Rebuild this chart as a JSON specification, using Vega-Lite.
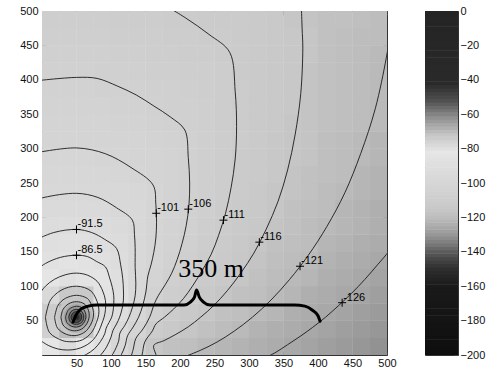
{
"$schema": "https://vega.github.io/schema/vega-lite/v6.json",
"padding": {"left": 5, "top": 4, "right": 0, "bottom": 0},
"bounds": "flush",
"spacing": 38,
"background": "white",
"config": {
  "view": {"stroke": "#333333", "strokeWidth": 1},
  "axis": {"labelFont": "Liberation Sans", "labelFontSize": 11, "labelColor": "#111111", "tickColor": "#444444", "domain": false, "grid": false, "labelOverlap": false}
},
"datasets": {
  "grid": [
    {"y":12.5,"x":[12.5,37.5,62.5,87.5,112.5,137.5,162.5,187.5,212.5,237.5,262.5,287.5,312.5,337.5,362.5,387.5,412.5,437.5,462.5,487.5],"v":[-82,-79,-82,-89,-99,-107,-116,-118,-119,-121,-122,-123,-124,-125,-126,-127,-128,-129,-130,-131]},
    {"y":37.5,"x":[12.5,37.5,62.5,87.5,112.5,137.5,162.5,187.5,212.5,237.5,262.5,287.5,312.5,337.5,362.5,387.5,412.5,437.5,462.5,487.5],"v":[-75,-70,-72,-84,-95,-103,-111,-114,-116,-118,-120,-121,-123,-124,-125,-126,-127,-128,-129,-130]},
    {"y":62.5,"x":[12.5,37.5,62.5,87.5,112.5,137.5,162.5,187.5,212.5,237.5,262.5,287.5,312.5,337.5,362.5,387.5,412.5,437.5,462.5,487.5],"v":[-74,-68,-70,-79,-91,-99,-107,-111,-114,-116,-118,-119,-121,-122,-124,-125,-126,-127,-128,-129]},
    {"y":87.5,"x":[12.5,37.5,62.5,87.5,112.5,137.5,162.5,187.5,212.5,237.5,262.5,287.5,312.5,337.5,362.5,387.5,412.5,437.5,462.5,487.5],"v":[-78,-73,-73,-81,-90,-97,-105,-109,-111,-114,-116,-118,-119,-121,-122,-124,-125,-126,-127,-128]},
    {"y":112.5,"x":[12.5,37.5,62.5,87.5,112.5,137.5,162.5,187.5,212.5,237.5,262.5,287.5,312.5,337.5,362.5,387.5,412.5,437.5,462.5,487.5],"v":[-83,-80,-81,-84,-90,-97,-103,-107,-110,-112,-114,-116,-118,-120,-121,-122,-124,-125,-126,-127]},
    {"y":137.5,"x":[12.5,37.5,62.5,87.5,112.5,137.5,162.5,187.5,212.5,237.5,262.5,287.5,312.5,337.5,362.5,387.5,412.5,437.5,462.5,487.5],"v":[-87,-85,-86,-88,-92,-97,-101,-105,-108,-111,-113,-115,-117,-119,-120,-121,-123,-124,-125,-126]},
    {"y":162.5,"x":[12.5,37.5,62.5,87.5,112.5,137.5,162.5,187.5,212.5,237.5,262.5,287.5,312.5,337.5,362.5,387.5,412.5,437.5,462.5,487.5],"v":[-90,-89,-89,-91,-93,-97,-101,-104,-107,-110,-112,-114,-116,-118,-119,-120,-122,-123,-124,-125]},
    {"y":187.5,"x":[12.5,37.5,62.5,87.5,112.5,137.5,162.5,187.5,212.5,237.5,262.5,287.5,312.5,337.5,362.5,387.5,412.5,437.5,462.5,487.5],"v":[-93,-92,-92,-93,-95,-97,-101,-104,-106,-109,-111,-113,-115,-117,-118,-120,-121,-122,-123,-124]},
    {"y":212.5,"x":[12.5,37.5,62.5,87.5,112.5,137.5,162.5,187.5,212.5,237.5,262.5,287.5,312.5,337.5,362.5,387.5,412.5,437.5,462.5,487.5],"v":[-95,-95,-95,-95,-97,-98,-101,-103,-106,-108,-111,-113,-114,-116,-118,-119,-120,-122,-123,-124]},
    {"y":237.5,"x":[12.5,37.5,62.5,87.5,112.5,137.5,162.5,187.5,212.5,237.5,262.5,287.5,312.5,337.5,362.5,387.5,412.5,437.5,462.5,487.5],"v":[-97,-97,-97,-97,-98,-99,-101,-104,-106,-108,-110,-112,-114,-116,-117,-118,-120,-121,-122,-123]},
    {"y":262.5,"x":[12.5,37.5,62.5,87.5,112.5,137.5,162.5,187.5,212.5,237.5,262.5,287.5,312.5,337.5,362.5,387.5,412.5,437.5,462.5,487.5],"v":[-99,-99,-99,-99,-100,-101,-102,-104,-106,-108,-110,-112,-113,-115,-117,-118,-119,-120,-122,-123]},
    {"y":287.5,"x":[12.5,37.5,62.5,87.5,112.5,137.5,162.5,187.5,212.5,237.5,262.5,287.5,312.5,337.5,362.5,387.5,412.5,437.5,462.5,487.5],"v":[-100,-100,-100,-101,-101,-102,-103,-104,-106,-108,-110,-112,-113,-115,-116,-117,-119,-120,-121,-122]},
    {"y":312.5,"x":[12.5,37.5,62.5,87.5,112.5,137.5,162.5,187.5,212.5,237.5,262.5,287.5,312.5,337.5,362.5,387.5,412.5,437.5,462.5,487.5],"v":[-102,-102,-102,-102,-103,-103,-104,-105,-106,-108,-110,-111,-113,-115,-116,-117,-119,-120,-121,-122]},
    {"y":337.5,"x":[12.5,37.5,62.5,87.5,112.5,137.5,162.5,187.5,212.5,237.5,262.5,287.5,312.5,337.5,362.5,387.5,412.5,437.5,462.5,487.5],"v":[-103,-103,-103,-103,-104,-104,-105,-106,-107,-108,-110,-111,-113,-114,-116,-117,-118,-119,-120,-121]},
    {"y":362.5,"x":[12.5,37.5,62.5,87.5,112.5,137.5,162.5,187.5,212.5,237.5,262.5,287.5,312.5,337.5,362.5,387.5,412.5,437.5,462.5,487.5],"v":[-104,-104,-104,-104,-105,-105,-106,-107,-107,-108,-110,-111,-113,-114,-115,-117,-118,-119,-120,-121]},
    {"y":387.5,"x":[12.5,37.5,62.5,87.5,112.5,137.5,162.5,187.5,212.5,237.5,262.5,287.5,312.5,337.5,362.5,387.5,412.5,437.5,462.5,487.5],"v":[-105,-105,-105,-106,-106,-106,-107,-107,-108,-109,-110,-111,-113,-114,-115,-117,-118,-119,-120,-121]},
    {"y":412.5,"x":[12.5,37.5,62.5,87.5,112.5,137.5,162.5,187.5,212.5,237.5,262.5,287.5,312.5,337.5,362.5,387.5,412.5,437.5,462.5,487.5],"v":[-106,-106,-106,-107,-107,-107,-108,-108,-109,-109,-110,-112,-113,-114,-115,-117,-118,-119,-120,-121]},
    {"y":437.5,"x":[12.5,37.5,62.5,87.5,112.5,137.5,162.5,187.5,212.5,237.5,262.5,287.5,312.5,337.5,362.5,387.5,412.5,437.5,462.5,487.5],"v":[-107,-107,-107,-107,-108,-108,-109,-109,-110,-110,-111,-112,-113,-114,-115,-116,-118,-119,-120,-121]},
    {"y":462.5,"x":[12.5,37.5,62.5,87.5,112.5,137.5,162.5,187.5,212.5,237.5,262.5,287.5,312.5,337.5,362.5,387.5,412.5,437.5,462.5,487.5],"v":[-108,-108,-108,-108,-109,-109,-109,-110,-110,-111,-111,-112,-113,-114,-115,-116,-118,-119,-120,-120]},
    {"y":487.5,"x":[12.5,37.5,62.5,87.5,112.5,137.5,162.5,187.5,212.5,237.5,262.5,287.5,312.5,337.5,362.5,387.5,412.5,437.5,462.5,487.5],"v":[-109,-109,-109,-109,-110,-110,-110,-111,-111,-112,-112,-112,-113,-114,-116,-117,-118,-118,-119,-120]}
  ],
  "core": [
    {"x":50,"y":55,"r":32,"v":-72},{"x":50,"y":55,"r":26,"v":-69},{"x":50,"y":55,"r":21,"v":-66},{"x":50,"y":55,"r":17,"v":-63},
    {"x":50,"y":55,"r":14,"v":-60},{"x":50,"y":55,"r":11.5,"v":-57},{"x":50,"y":55,"r":9,"v":-53},{"x":50,"y":55,"r":7,"v":-50},
    {"x":50,"y":55,"r":5,"v":-45},{"x":50,"y":55,"r":3.5,"v":-40},{"x":50,"y":55,"r":2,"v":-35}
  ],
  "contours": [
    {"lv":"-126","x":[526,503,487,468,449,430,411,392,374,356,339,322,305],"y":[183,151,132,110,90,72,55,40,27,15,4,-5,-13]},
    {"lv":"-121","x":[510,504,499,483,462,439,413,386,359,332,305,279,254,230,208],"y":[515,464,432,358,293,236,187,145,110,80,55,35,19,7,-2]},
    {"lv":"-116","x":[376,377,378,375,367,356,342,325,307,288,269,249,230,212,194,177,162,165,169],"y":[503,474,446,380,321,269,223,183,148,119,94,72,55,41,30,21,14,1,-13]},
    {"lv":"-111","x":[172,208,242,272,280,282,280,274,266,256,245,231,218,205,191,177.5,165,160,149,145,139],"y":[512,490,466,440,383,332,285,243,206,174,146,121,100,82,67,55,45,35,19,0,-20]},
    {"lv":"-106","x":[-14,50,80,109,136.5,162,186,207,212,214,213,209,203,196,188,178.5,169,163,156,146.5,136,132,127],"y":[398,403.5,402,391,378,362,346,327,287,250,218,188,162,139,119,102,87,75,55,38,24,7.5,-9]},
    {"lv":"-101","x":[-14,50,92,129,161,165,166,165,162,158,153.5,150.5,146,140,132,124,120.6,115,107.5],"y":[293,301,292.5,272.5,247,219,193,170,149,131,115,91.6,72,55,40.5,28,14,0.4,-13.6]},
    {"lv":"-96.5","x":[-12,3,50,81,108,131,134,135,135,136,135,131,126,120,113,111,103,95],"y":[224,229,235,229,214,196,175,156,127,104.5,86,69,55,43,32,20,2,-9]},
    {"lv":"-91.5","x":[-14,17,50,72,91,108,114,117,118,118,116,112.5,108,103,100,93.5,83,73],"y":[165,178,182.5,178,168,155,131,111,94.5,80,67,55,45,36,26,11.5,-2,-9]},
    {"lv":"-86.5","x":[-14,5,27,50,66,79,92,98,102,104,104,103,101,97,93,91,85,76,64.5,55],"y":[119,133,142,145,143,136,128,112,98,86,75,64,55,47,39,31,20,9,1,-3]},
    {"lv":"-81.5","x":[-5,5,18,33.5,50,66,80,88,92,92,90,86.5,83,78,71,61,50,37,23,9,-5],"y":[87,100,110,116.5,119,116,107,93,79,66,55,45,36,27,19,12.5,8.6,7.2,8.8,14,23]},
    {"lv":"-76.5","x":[5,11,18,27.5,38.4,50,61.5,71.6,77.8,81.3,82.5,81.4,78.9,76,72,66.2,58.8,50,40.4,30.25,11,5],"y":[55,77.5,86.8,94,98.5,100,98,92.5,82.8,73.1,63.7,55,47.3,40,33,27,22.2,19.6,19.3,20.8,32.5,55]},
    {"lv":"-71.5","x":[18.2,22.5,27.5,34.1,50,65.7,70.5,73.4,74.6,74.3,72.7,70.2,66.8,62.35,50,35.5,22.5,18.2],"y":[55,70.9,77.5,82.5,86.8,82.2,75.5,68.5,61.6,55,48.9,43.35,38.2,33.6,28.4,30,39.1,55]},
    {"lv":"-66.5","x":[27.5,30.5,38.75,50,61.15,67.3,68.35,65.3,59.3,50,39.5,30.5,27.5],"y":[55,66.25,74.5,77.5,74.3,65,55,46.15,38.9,35.3,36.8,43.75,55]},
    {"lv":"-61.5","x":[34.1,38.8,50,57.9,62.6,63.65,61.5,56.9,50,42.5,36.2,34.1],"y":[55,66.2,70.9,68.7,62.25,55,48.35,43,40.6,41.9,47,55]},
    {"lv":"-56.5","x":[38.75,42,50,57.8,60.5,57.5,50,42,38.75],"y":[55,63,66.25,62.8,55,47.5,44.5,47,55]},
    {"lv":"-51.5","x":[42,44.4,50,55.5,57.5,55.3,50,44.4,42],"y":[55,60.6,63,60.5,55,49.7,47.3,49.4,55]}
  ],
  "brace": [
    {"x":45,"y":48},{"x":49.3,"y":58},{"x":56.7,"y":67},{"x":67,"y":71},{"x":78.5,"y":72.7},{"x":206,"y":72.7},
    {"x":215,"y":77},{"x":221,"y":84},{"x":224,"y":94.5},{"x":228,"y":84},{"x":234,"y":77},{"x":244,"y":72.7},
    {"x":366,"y":72.7},{"x":381,"y":71},{"x":392,"y":65},{"x":400,"y":57},{"x":403,"y":49}
  ],
  "labels": [
    {"t":"-91.5","x":50,"y":182.5},{"t":"-86.5","x":50,"y":145},{"t":"-101","x":165.5,"y":206},{"t":"-106","x":212,"y":212},
    {"t":"-111","x":263,"y":196},{"t":"-116","x":315,"y":164},{"t":"-121","x":374,"y":129},{"t":"-126","x":435,"y":76}
  ],
  "note": [{"t":"350 m","x":245,"y":113}],
  "cbar": [{"v":[-200,-198,-196,-194,-192,-190,-188,-186,-184,-182,-180,-178,-176,-174,-172,-170,-168,-166,-164,-162,-160,-158,-156,-154,-152,-150,-148,-146,-144,-142,-140,-138,-136,-134,-132,-130,-128,-126,-124,-122,-120,-118,-116,-114,-112,-110,-108,-106,-104,-102,-100,-98,-96,-94,-92,-90,-88,-86,-84,-82,-80,-78,-76,-74,-72,-70,-68,-66,-64,-62,-60,-58,-56,-54,-52,-50,-48,-46,-44,-42,-40,-38,-36,-34,-32,-30,-28,-26,-24,-22,-20,-18,-16,-14,-12,-10,-8,-6,-4,-2,0]}]
},
"hconcat": [
  {
    "width": 345, "height": 344,
    "resolve": {"axis": {"x": "independent", "y": "independent"}},
    "layer": [
      {"data": {"name": "grid"}, "transform": [{"flatten": ["x", "v"]}],
       "mark": {"type": "square", "size": 310, "opacity": 1, "clip": true, "strokeWidth": 0},
       "encoding": {
         "x": {"field": "x", "type": "quantitative", "scale": {"domain": [0, 500], "nice": false, "zero": false},
               "axis": {"orient": "bottom", "title": null, "values": [50,100,150,200,250,300,350,400,450,500], "tickSize": -4, "labelPadding": 6, "labelFlush": false}},
         "y": {"field": "y", "type": "quantitative", "scale": {"domain": [0, 500], "nice": false, "zero": false},
               "axis": {"orient": "left", "title": null, "values": [50,100,150,200,250,300,350,400,450,500], "tickSize": -4, "labelPadding": 8, "minExtent": 36, "maxExtent": 36}},
         "color": {"field": "v", "type": "quantitative", "legend": null,
           "scale": {"type": "linear", "domain": [-200,-160,-150,-145,-140,-135,-130,-125,-120,-115,-105,-95,-82,-72,-62,-52,-42,0], "range": ["#0e0e0e","#1a1a1a","#2e2e2e","#424242","#5c5c5c","#7c7c7c","#979797","#acacac","#bdbdbd","#c8c8c8","#d2d2d2","#dadada","#e6e6e6","#c6c6c6","#909090","#505050","#2a2a2a","#242424"], "interpolate": "rgb"}}}},
      {"data": {"name": "core"},
       "mark": {"type": "circle", "opacity": 1, "clip": true, "strokeWidth": 0},
       "encoding": {
         "x": {"field": "x", "type": "quantitative", "axis": null},
         "y": {"field": "y", "type": "quantitative", "axis": null},
         "size": {"field": "r", "type": "quantitative", "legend": null, "scale": {"type": "pow", "exponent": 2, "domain": [0, 40], "range": [0, 2393]}},
         "color": {"field": "v", "type": "quantitative", "legend": null}}},
      {"data": {"name": "contours"}, "transform": [{"flatten": ["x", "y"]}],
       "mark": {"type": "line", "interpolate": "catmull-rom", "color": "#1a1a1a", "strokeWidth": 0.9, "clip": true},
       "encoding": {
         "x": {"field": "x", "type": "quantitative", "axis": null},
         "y": {"field": "y", "type": "quantitative", "axis": null},
         "detail": {"field": "lv", "type": "nominal"}, "order": {"value": null}}},
      {"data": {"name": "brace"},
       "mark": {"type": "line", "interpolate": "monotone", "color": "#000000", "strokeWidth": 3, "strokeCap": "round"},
       "encoding": {
         "x": {"field": "x", "type": "quantitative", "axis": null},
         "y": {"field": "y", "type": "quantitative", "axis": null}}},
      {"data": {"name": "labels"},
       "mark": {"type": "point", "shape": "M-1,0L1,0M0,-1L0,1", "size": 64, "filled": false, "stroke": "#000000", "strokeWidth": 1, "opacity": 1},
       "encoding": {
         "x": {"field": "x", "type": "quantitative", "axis": null},
         "y": {"field": "y", "type": "quantitative", "axis": null}}},
      {"data": {"name": "labels"},
       "mark": {"type": "text", "align": "left", "baseline": "alphabetic", "dx": 1, "dy": -2, "font": "Liberation Sans", "fontSize": 11, "fill": "#000000"},
       "encoding": {
         "x": {"field": "x", "type": "quantitative", "axis": null},
         "y": {"field": "y", "type": "quantitative", "axis": null},
         "text": {"field": "t"}}},
      {"data": {"name": "note"},
       "mark": {"type": "text", "align": "center", "baseline": "alphabetic", "font": "Liberation Serif", "fontSize": 26, "fill": "#000000"},
       "encoding": {
         "x": {"field": "x", "type": "quantitative",
               "axis": {"orient": "top", "title": null, "values": [50,100,150,200,250,300,350,400,450,500], "tickSize": -4, "labels": false}},
         "y": {"field": "y", "type": "quantitative",
               "axis": {"orient": "right", "title": null, "values": [50,100,150,200,250,300,350,400,450,500], "tickSize": -4, "labels": false}},
         "text": {"field": "t"}}}
    ]
  },
  {
    "width": 33, "height": 344,
    "data": {"name": "cbar"},
    "transform": [{"flatten": ["v"]}],
    "mark": {"type": "tick", "size": 33, "thickness": 4, "clip": true, "opacity": 1},
    "encoding": {
      "y": {"field": "v", "type": "quantitative", "scale": {"domain": [-200, 0], "nice": false, "zero": false},
            "axis": {"orient": "right", "title": null, "values": [-200,-180,-160,-140,-120,-100,-80,-60,-40,-20,0], "tickSize": -4, "labelPadding": 6}},
      "color": {"field": "v", "type": "quantitative", "legend": null,
         "scale": {"type": "linear", "domain": [-200,-160,-150,-145,-140,-135,-130,-125,-120,-115,-105,-95,-82,-72,-62,-52,-42,0], "range": ["#0e0e0e","#1a1a1a","#2e2e2e","#424242","#5c5c5c","#7c7c7c","#979797","#acacac","#bdbdbd","#c8c8c8","#d2d2d2","#dadada","#e6e6e6","#c6c6c6","#909090","#505050","#2a2a2a","#242424"], "interpolate": "rgb"}}
    }
  }
]
}
